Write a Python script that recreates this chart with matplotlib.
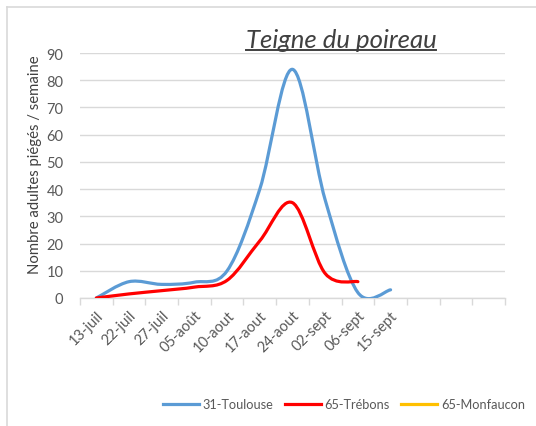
import matplotlib
matplotlib.use("Agg")
import matplotlib.pyplot as plt
from matplotlib.path import Path
from matplotlib.patches import PathPatch
from matplotlib.lines import Line2D
import numpy as np

categories = ["13-juil", "22-juil", "27-juil", "05-août", "10-aout", "17-aout",
              "24-aout", "02-sept", "06-sept", "15-sept", "", "", ""]
toulouse = [0, 6, 5, 5.8, 10, 40, 84, 36, 2, 3]
trebons = [0, 1.5, 2.7, 4, 6.5, 21, 35, 9, 6]
monfaucon = []
yticks = [0, 10, 20, 30, 40, 50, 60, 70, 80, 90]

series = [("31-Toulouse", toulouse, "#5B9BD5"),
          ("65-Trébons", trebons, "#FF0000"),
          ("65-Monfaucon", monfaucon, "#FFC000")]

FONT = "Lato"
plt.rcParams["font.family"] = [FONT, "DejaVu Sans"]

fig = plt.figure(figsize=(5.36, 4.27), dpi=100)
W, H = 536, 427
ax = fig.add_axes([80 / W, (H - 299) / H, 425 / W, 245 / H])

def smooth_path(y):
    pts = np.column_stack([np.arange(len(y)), np.asarray(y, float)])
    verts = [pts[0]]
    codes = [Path.MOVETO]
    n = len(pts)
    for i in range(n - 1):
        p0 = pts[max(i - 1, 0)]
        p1 = pts[i]
        p2 = pts[i + 1]
        p3 = pts[min(i + 2, n - 1)]
        c1 = p1 + (p2 - p0) / 6.0
        c2 = p2 - (p3 - p1) / 6.0
        verts += [c1, c2, p2]
        codes += [Path.CURVE4] * 3
    return Path(verts, codes)

handles = []
for name, vals, col in series:
    if len(vals) > 1:
        patch = PathPatch(smooth_path(vals), facecolor="none", edgecolor=col,
                          lw=2.3, capstyle="round", joinstyle="round", zorder=3)
        ax.add_patch(patch)
    handles.append(Line2D([], [], color=col, lw=2.3, label=name))

ax.set_xlim(-0.5, len(categories) - 0.5)
ax.set_ylim(0, 90)
ax.set_yticks(yticks)
ax.set_xticks(np.arange(len(categories)))
ax.set_xticklabels(categories, rotation=45, ha="right", rotation_mode="anchor")
ax.set_xticks(np.arange(len(categories) + 1) - 0.5, minor=True)
ax.tick_params(axis="x", which="major", length=0, pad=7, labelsize=10.5, colors="#595959")
ax.tick_params(axis="x", which="minor", length=5, width=1, color="#D9D9D9")
ax.tick_params(axis="y", length=0, pad=12, labelsize=10.5, colors="#595959")
for lab in ax.get_xticklabels():
    lab.set_color("#595959")
ax.grid(axis="y", color="#D9D9D9", lw=1)
ax.set_axisbelow(True)
for s in ["top", "right", "left"]:
    ax.spines[s].set_visible(False)
ax.spines["bottom"].set_color("#D9D9D9")
ax.spines["bottom"].set_linewidth(1)

fig.text(35 / W, 1 - 165 / H, "Nombre adultes piégés / semaine", rotation=90,
         ha="center", va="center", fontsize=10.7, color="#404040")

title = fig.text(341 / W, 1 - 40 / H, "Teigne du poireau", ha="center", va="center",
                 fontsize=18.5, style="italic", color="#404040")

fig.canvas.draw()
bb = title.get_window_extent()
uy = 1 - 51 / H
fig.add_artist(Line2D([bb.x0 / W, bb.x1 / W], [uy, uy], color="#404040", lw=1.4,
                      transform=fig.transFigure))

# chart frame (left and top edges)
fig.add_artist(Line2D([7 / W, 7 / W], [0, 1 - 8 / H], color="#D9D9D9", lw=1.2,
                      transform=fig.transFigure))
fig.add_artist(Line2D([7 / W, 1], [1 - 8 / H, 1 - 8 / H], color="#D9D9D9", lw=1.2,
                      transform=fig.transFigure))

leg = fig.legend(handles=handles, loc="center", bbox_to_anchor=(344 / W, 1 - 405 / H),
                 ncol=3, frameon=False, fontsize=9.2, handlelength=2.8,
                 handletextpad=0.3, columnspacing=0.9, labelcolor="#595959",
                 borderpad=0.0, borderaxespad=0.0)

fig.savefig("out.png", dpi=100)
